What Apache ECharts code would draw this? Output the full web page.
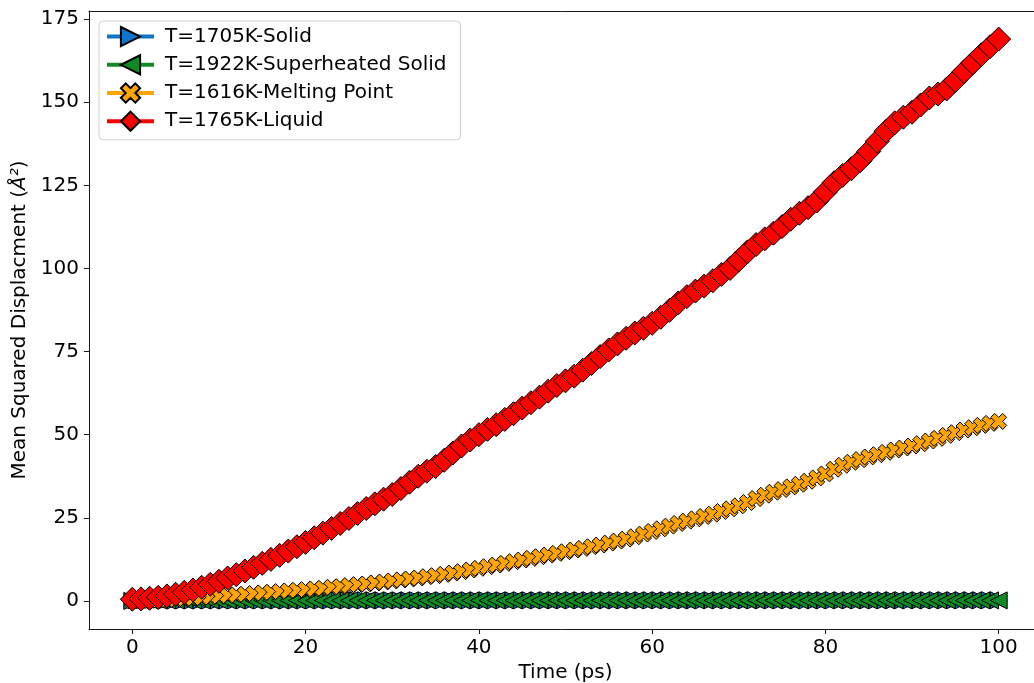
<!DOCTYPE html>
<html>
<head>
<meta charset="utf-8">
<title>Mean Squared Displacement vs Time</title>
<script src="https://cdn.jsdelivr.net/npm/echarts@6/dist/echarts.min.js"></script>
<style>
  html, body { margin: 0; padding: 0; background: #fff; }
  #chart { width: 1034px; height: 683px; }
</style>
</head>
<body>
<div id="chart"></div>
<script>
// Simulation time (ps)
const time = [
  0, 1, 2, 3, 4, 5, 6, 7, 8, 9, 10, 11, 12, 13, 14, 15, 16, 17, 18, 19,
  20, 21, 22, 23, 24, 25, 26, 27, 28, 29, 30, 31, 32, 33, 34, 35, 36, 37, 38, 39,
  40, 41, 42, 43, 44, 45, 46, 47, 48, 49, 50, 51, 52, 53, 54, 55, 56, 57, 58, 59,
  60, 61, 62, 63, 64, 65, 66, 67, 68, 69, 70, 71, 72, 73, 74, 75, 76, 77, 78, 79,
  80, 81, 82, 83, 84, 85, 86, 87, 88, 89, 90, 91, 92, 93, 94, 95, 96, 97, 98, 99, 100
];

// MSD (Å²) for each temperature run
const msdSolid1705 = [
  0.00, 0.08, 0.11, 0.12, 0.13, 0.13, 0.14, 0.14, 0.14, 0.15, 0.15, 0.15, 0.15, 0.16, 0.16, 0.16, 0.16, 0.16, 0.16, 0.17,
  0.17, 0.17, 0.17, 0.17, 0.17, 0.17, 0.18, 0.18, 0.18, 0.18, 0.18, 0.18, 0.18, 0.18, 0.18, 0.18, 0.19, 0.19, 0.19, 0.19,
  0.19, 0.19, 0.19, 0.19, 0.19, 0.19, 0.19, 0.19, 0.20, 0.20, 0.20, 0.20, 0.20, 0.20, 0.20, 0.20, 0.20, 0.20, 0.20, 0.20,
  0.20, 0.20, 0.20, 0.20, 0.21, 0.21, 0.21, 0.21, 0.21, 0.21, 0.21, 0.21, 0.21, 0.21, 0.21, 0.21, 0.21, 0.21, 0.21, 0.21,
  0.21, 0.21, 0.21, 0.21, 0.22, 0.22, 0.22, 0.22, 0.22, 0.22, 0.22, 0.22, 0.22, 0.22, 0.22, 0.22, 0.22, 0.22, 0.22, 0.22, 0.22
];
const msdSuperheated1922 = [
  0.00, 0.07, 0.10, 0.11, 0.12, 0.12, 0.12, 0.13, 0.13, 0.13, 0.13, 0.13, 0.13, 0.14, 0.14, 0.14, 0.14, 0.14, 0.14, 0.14,
  0.14, 0.14, 0.14, 0.14, 0.15, 0.15, 0.15, 0.15, 0.15, 0.15, 0.15, 0.15, 0.15, 0.15, 0.15, 0.15, 0.15, 0.15, 0.15, 0.15,
  0.15, 0.15, 0.15, 0.15, 0.15, 0.16, 0.16, 0.16, 0.16, 0.16, 0.16, 0.16, 0.16, 0.16, 0.16, 0.16, 0.16, 0.16, 0.16, 0.16,
  0.16, 0.16, 0.16, 0.16, 0.16, 0.16, 0.16, 0.16, 0.16, 0.16, 0.16, 0.16, 0.16, 0.16, 0.16, 0.16, 0.16, 0.16, 0.16, 0.16,
  0.16, 0.16, 0.16, 0.16, 0.16, 0.16, 0.16, 0.16, 0.16, 0.16, 0.16, 0.16, 0.16, 0.16, 0.16, 0.16, 0.16, 0.16, 0.16, 0.16, 0.16
];
const msdMelting1616 = [
  0.0, 0.1, 0.2, 0.3, 0.4, 0.5, 0.7, 0.8, 1.0, 1.2, 1.4, 1.6, 1.8, 2.0, 2.2, 2.4, 2.6, 2.8, 3.0, 3.2,
  3.4, 3.6, 3.8, 4.1, 4.3, 4.6, 4.9, 5.1, 5.4, 5.7, 6.0, 6.3, 6.6, 6.9, 7.3, 7.6, 8.0, 8.4, 8.8, 9.3,
  9.8, 10.3, 10.8, 11.3, 11.8, 12.3, 12.8, 13.3, 13.8, 14.3, 14.8, 15.3, 15.8, 16.3, 16.8, 17.4, 18.0, 18.6, 19.3, 20.1,
  20.9, 21.7, 22.5, 23.3, 24.0, 24.7, 25.4, 26.1, 26.9, 27.7, 28.6, 29.6, 30.8, 31.8, 32.7, 33.5, 34.3, 35.1, 36.0, 37.0,
  38.2, 39.6, 40.8, 41.7, 42.5, 43.3, 44.0, 44.7, 45.4, 46.0, 46.6, 47.3, 48.1, 48.9, 49.8, 50.6, 51.4, 52.1, 52.8, 53.4, 54.0
];
const msdLiquid1765 = [
  0.5, 0.6, 0.8, 1.1, 1.5, 2.0, 2.6, 3.3, 4.1, 5.0, 5.9, 6.9, 7.9, 9.0, 10.1, 11.3, 12.5, 13.7, 15.0, 16.3,
  17.6, 19.0, 20.4, 21.8, 23.3, 24.8, 26.3, 27.8, 29.2, 30.6, 32.0, 33.8, 35.7, 37.5, 39.0, 40.4, 42.3, 44.5, 46.6, 48.4,
  50.0, 51.6, 53.0, 54.6, 56.3, 58.0, 59.6, 61.3, 63.1, 64.8, 66.2, 67.6, 69.4, 71.4, 73.5, 75.5, 77.3, 79.0, 80.6, 82.0,
  83.5, 85.3, 87.4, 89.6, 91.5, 93.2, 94.7, 96.3, 98.2, 100.0, 102.5, 105.0, 107.2, 108.9, 110.6, 112.6, 114.8, 116.6, 118.3, 120.3,
  123.0, 125.8, 128.0, 130.0, 132.4, 135.2, 138.3, 141.3, 143.8, 145.5, 147.0, 149.2, 151.3, 152.5, 154.0, 156.5, 159.2, 161.8, 164.3, 166.7, 169.0
];

// Tick positions
const xTicks = [0, 20, 40, 60, 80, 100];
const yTicks = [0, 25, 50, 75, 100, 125, 150, 175];

// Series labels
const seriesNames = [
  'T=1705K-Solid',
  'T=1922K-Superheated Solid',
  'T=1616K-Melting Point',
  'T=1765K-Liquid'
];

const FONT = 'DejaVu Sans';
const FS = 20;
const SPINE = '#1a1a1a';

// Marker shapes
const triRight = 'path://M0,0L10,5L0,10Z';
const triLeft = 'path://M10,0L0,5L10,10Z';
const xFilled = 'path://M3,0L4,1L3,2L4,3L3,4L2,3L1,4L0,3L1,2L0,1L1,0L2,1Z';

function pairs(ys) {
  return time.map((t, i) => [t, ys[i]]);
}

function makeSeries(name, ys, color, symbol, size) {
  return {
    name: name,
    type: 'line',
    xAxisIndex: 0,
    data: pairs(ys),
    symbol: symbol,
    symbolSize: size,
    showSymbol: true,
    showAllSymbol: true,
    symbolKeepAspect: false,
    lineStyle: { color: color, width: 4 },
    itemStyle: { color: color, borderColor: '#000', borderWidth: 1 },
    emphasis: { disabled: true },
    clip: true
  };
}

const chart = echarts.init(document.getElementById('chart'), null, { renderer: 'canvas' });

chart.setOption({
  animation: false,
  backgroundColor: '#ffffff',
  textStyle: { fontFamily: FONT },
  grid: {
    left: 89,
    width: 953,
    top: 11,
    height: 618,
    containLabel: false,
    outerBoundsMode: 'none',
    show: false
  },
  legend: {
    orient: 'vertical',
    left: 99,
    top: 21,
    padding: [5, 14, 8, 6],
    itemWidth: 47,
    itemHeight: 24,
    itemGap: 7,
    backgroundColor: 'rgba(255,255,255,0.85)',
    borderColor: '#d0d0d0',
    borderWidth: 1,
    borderRadius: 4,
    lineStyle: { width: 4 },
    textStyle: { fontFamily: FONT, fontSize: FS, color: '#000', padding: [0, 0, 0, 6] },
    data: seriesNames
  },
  xAxis: [
    {
      type: 'value',
      position: 'bottom',
      min: -5,
      max: 105,
      name: 'Time (ps)',
      nameLocation: 'middle',
      nameGap: 29,
      nameTextStyle: { fontFamily: FONT, fontSize: FS, color: '#000' },
      axisLine: { show: true, onZero: false, lineStyle: { color: SPINE, width: 1 } },
      axisTick: { show: true, inside: false, length: 5, customValues: xTicks, lineStyle: { color: SPINE, width: 1 } },
      axisLabel: { customValues: xTicks, fontFamily: FONT, fontSize: FS, color: '#000', margin: 9 },
      splitLine: { show: false }
    },
    {
      // top frame line
      type: 'value',
      position: 'top',
      min: -5,
      max: 105,
      axisLine: { show: true, onZero: false, lineStyle: { color: SPINE, width: 1 } },
      axisTick: { show: false },
      axisLabel: { show: false },
      splitLine: { show: false }
    }
  ],
  yAxis: {
    type: 'value',
    min: -8.45,
    max: 177.45,
    name: 'Mean Squared Displacment ({i|Å²})',
    nameLocation: 'middle',
    nameGap: 55,
    nameTextStyle: {
      fontFamily: FONT, fontSize: FS, color: '#000',
      rich: { i: { fontFamily: FONT, fontSize: FS, fontStyle: 'italic', color: '#000' } }
    },
    axisLine: { show: true, onZero: false, lineStyle: { color: SPINE, width: 1 } },
    axisTick: { show: true, inside: false, length: 5, customValues: yTicks, lineStyle: { color: SPINE, width: 1 } },
    axisLabel: { customValues: yTicks, fontFamily: FONT, fontSize: FS, color: '#000', margin: 10 },
    splitLine: { show: false }
  },
  series: [
    makeSeries(seriesNames[0], msdSolid1705, '#0e75c8', triRight, [17, 17]),
    makeSeries(seriesNames[1], msdSuperheated1922, '#108a24', triLeft, [17, 17]),
    makeSeries(seriesNames[2], msdMelting1616, '#ffa500', xFilled, [16, 16]),
    makeSeries(seriesNames[3], msdLiquid1765, '#ff0000', 'diamond', [24, 24])
  ]
});
</script>
</body>
</html>
